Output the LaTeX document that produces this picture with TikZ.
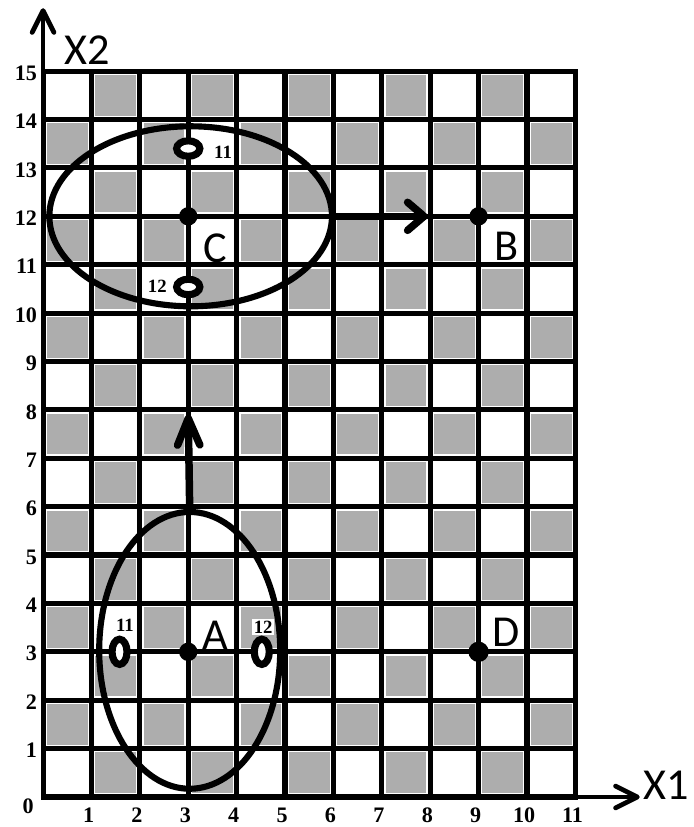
\documentclass[tikz,border=0pt]{standalone}
\usepackage{fontspec}
\setmainfont{Liberation Serif}
\newfontfamily\calib{Carlito}
\usetikzlibrary{arrows.meta,shapes.geometric}
\begin{document}
\begin{tikzpicture}[x=1cm,y=1cm,
 cellgray/.style={fill=black!32},
 gridline/.style={line width=3pt, line cap=rect},
 axisline/.style={line width=2.8pt, -{Straight Barb[length=0.45cm,width=0.45cm,round]}},
 bigring/.style={ellipse, draw, line width=3.6pt, inner sep=0pt},
 smallring/.style={ellipse, draw, fill=white, line width=4.2pt, inner sep=0pt},
 dot/.style={circle, fill=black, inner sep=0pt, minimum size=0.38cm},
 ptlabel/.style={font=\calib\fontsize{26}{26}\selectfont, inner sep=0pt},
 ticklabel/.style={font=\bfseries\fontsize{13}{13}\selectfont, inner sep=0pt},
 ringlabel/.style={font=\bfseries\fontsize{11}{11}\selectfont, fill=white, inner sep=1pt},
 hmove/.style={line width=4.4pt, -{Straight Barb[length=0.34cm,width=0.58cm,round]}},
 vmove/.style={line width=4.4pt, -{Straight Barb[length=0.55cm,width=0.46cm,round]}},
]
\useasboundingbox (-0.89,-0.62) rectangle (13.45,16.47);
% checkerboard cells
\foreach \i in {0,...,10}{
  \foreach \j in {0,...,14}{
    \pgfmathtruncatemacro\s{mod(\i+\j,2)}
    \ifnum\s=1
      \fill[cellgray] (\i+0.08,\j+0.08) rectangle (\i+0.92,\j+0.92);
    \fi
  }
}
% grid
\draw[gridline] (0,0) grid (11,15);
% axes
\coordinate (O) at (0,0);
\coordinate (xtip) at (12.33,0);
\coordinate (ytip) at (0,16.3);
\draw[axisline] (O) -- (xtip);
\draw[axisline] (O) -- (ytip);
\node[ptlabel] (X1) at (12.87,0.25) {X1};
\node[ptlabel] (X2) at (0.91,15.43) {X2};
% tick labels
\node[ticklabel] (t0) at (-0.31,-0.2) {0};
\foreach \j in {1,...,15}{
  \node[ticklabel, anchor=east] (ty\j) at (-0.12,\j-0.04) {\j};
}
\foreach \i in {1,...,11}{
  \node[ticklabel] (tx\i) at (\i-0.06,-0.37) {\i};
}
% big ellipses
\node[bigring, minimum width=3.74cm, minimum height=5.72cm] (EA) at (3.03,3.03) {};
\node[bigring, minimum width=5.84cm, minimum height=3.72cm] (EC) at (3.05,12) {};
% movement arrows
\coordinate (upTip) at (3,7.9);
\coordinate (rightTip) at (7.95,12);
\draw[vmove] (EA.north) -- (upTip);
\draw[hmove] (EC.east) -- (rightTip);
% small rings
\node[smallring, minimum width=0.31cm, minimum height=0.52cm] (A11) at (1.58,3) {};
\node[smallring, minimum width=0.31cm, minimum height=0.52cm] (A12) at (4.52,3) {};
\node[smallring, minimum width=0.48cm, minimum height=0.32cm] (C11) at (3,13.4) {};
\node[smallring, minimum width=0.48cm, minimum height=0.32cm] (C12) at (3,10.54) {};
\node[ringlabel] (lA11) at (1.69,3.55) {11};
\node[ringlabel] (lA12) at (4.55,3.51) {12};
\node[ringlabel] (lC11) at (3.72,13.33) {11};
\node[ringlabel] (lC12) at (2.36,10.56) {12};
% points
\node[dot] (A) at (3,3) {};
\node[dot] (C) at (3,12) {};
\node[dot] (B) at (9,12) {};
\node[dot, minimum size=0.42cm] (D) at (9,3) {};
\node[ptlabel] (Alab) at (3.55,3.35) {A};
\node[ptlabel] (Clab) at (3.55,11.34) {C};
\node[ptlabel] (Blab) at (9.57,11.38) {B};
\node[ptlabel] (Dlab) at (9.57,3.41) {D};
\end{tikzpicture}
\end{document}
